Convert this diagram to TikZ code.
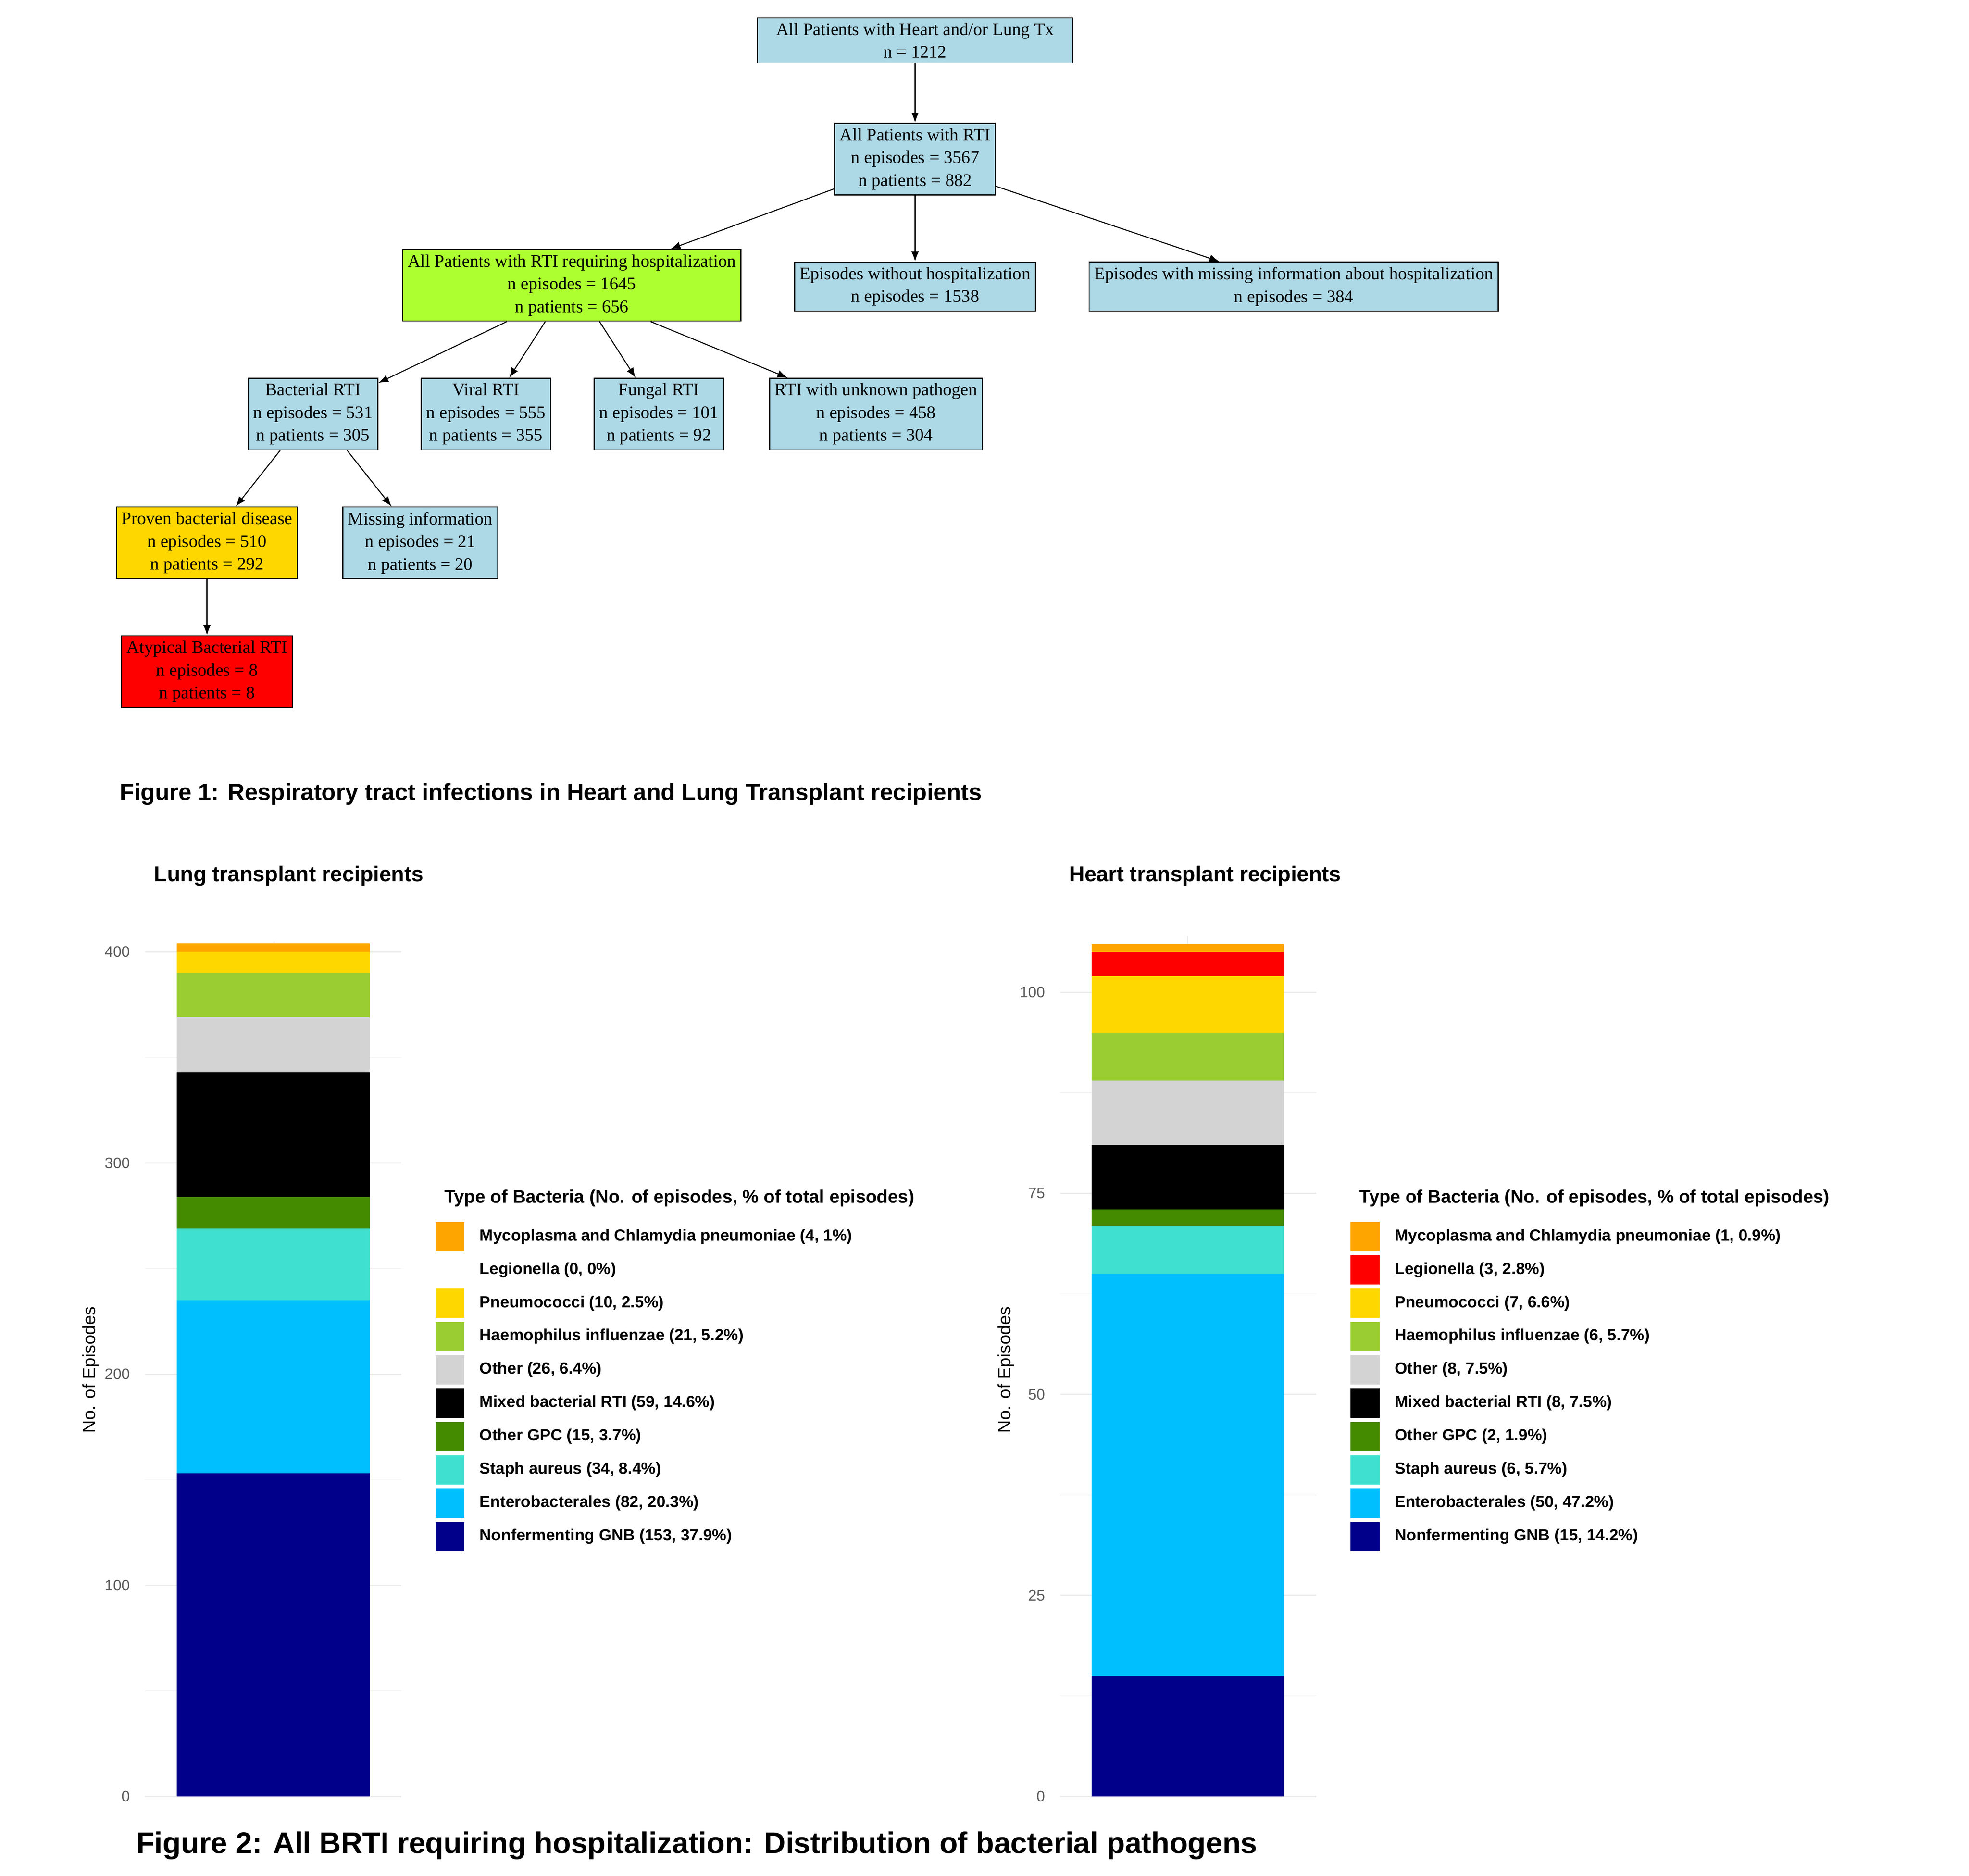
\documentclass[tikz,border=0pt]{standalone}
\usepackage{fontspec}
\setmainfont{Liberation Serif}
\newfontfamily\chartfont{Liberation Sans}
\usetikzlibrary{positioning}
\definecolor{boxblue}{RGB}{173,216,230}
\definecolor{hospgreen}{RGB}{173,255,47}
\definecolor{c1}{RGB}{0,0,139}
\definecolor{c2}{RGB}{0,191,255}
\definecolor{c3}{RGB}{64,224,208}
\definecolor{c4}{RGB}{69,139,0}
\definecolor{c5}{RGB}{0,0,0}
\definecolor{c6}{RGB}{211,211,211}
\definecolor{c7}{RGB}{154,205,50}
\definecolor{c8}{RGB}{255,215,0}
\definecolor{c9}{RGB}{255,0,0}
\definecolor{c10}{RGB}{255,165,0}
\definecolor{gridcol}{RGB}{235,235,235}
\tikzset{
  flow/.style={draw,fill=boxblue,align=center,inner sep=2pt,
    font=\fontsize{7}{9}\selectfont},
  tick/.style={font=\chartfont\fontsize{6}{7}\selectfont,text=black!65,anchor=east},
  legtext/.style={font=\chartfont\bfseries\fontsize{6.4}{7}\selectfont,anchor=west},
  heading/.style={font=\chartfont\bfseries,anchor=west},
}
\begin{document}
\begin{tikzpicture}[>=latex,x=0.5pt,y=-0.5pt]
\fill[white] (0,0) rectangle (1560,1486);
\useasboundingbox (0,0) rectangle (1560,1486);
%% flow chart
\node (all) at (725,32) [flow,minimum width=125pt] {All Patients with Heart and/or Lung Tx\\n = 1212};
\node (rti) at (725,126) [flow] {All Patients with RTI\\n episodes = 3567\\n patients = 882};
\node (hosp) at (453,226) [flow,fill=hospgreen] {All Patients with RTI requiring hospitalization\\n episodes = 1645\\n patients = 656};
\node (nohosp) at (725,227) [flow] {Episodes without hospitalization\\n episodes = 1538};
\node (mishosp) at (1025,227) [flow] {Episodes with missing information about hospitalization\\n episodes = 384};
\node (bact) at (248,328) [flow] {Bacterial RTI\\n episodes = 531\\n patients = 305};
\node (viral) at (385,328) [flow] {Viral RTI\\n episodes = 555\\n patients = 355};
\node (fungal) at (522,328) [flow] {Fungal RTI\\n episodes = 101\\n patients = 92};
\node (unknown) at (694,328) [flow] {RTI with unknown pathogen\\n episodes = 458\\n patients = 304};
\node (proven) at (164,430) [flow,fill=c8] {Proven bacterial disease\\n episodes = 510\\n patients = 292};
\node (misinfo) at (333,430) [flow] {Missing information\\n episodes = 21\\n patients = 20};
\node (atyp) at (164,532) [flow,fill=c9] {Atypical Bacterial RTI\\n episodes = 8\\n patients = 8};
\draw [->] (all) -- (rti);
\draw [->] (rti) -- (hosp);
\draw [->] (rti) -- (nohosp);
\draw [->] (rti) -- (mishosp);
\draw [->] (hosp.south west) ++(83,0) -- (bact);
\draw [->] (hosp.south) ++(-21,0) -- (viral);
\draw [->] (hosp.south) ++(22,0) -- (fungal);
\draw [->] (hosp.south east) ++(-72,0) -- (unknown);
\draw [->] (bact.south) ++(-26,0) -- (proven);
\draw [->] (bact.south) ++(27,0) -- (misinfo);
\draw [->] (proven) -- (atyp);
\node (cap1) at (88,629) [heading,font=\chartfont\bfseries\fontsize{9.3}{11}\selectfont] {Figure 1: Respiratory tract infections in Heart and Lung Transplant recipients};
%% lung chart
\node (lungtitle) at (115,694) [heading,font=\chartfont\bfseries\fontsize{8.5}{10}\selectfont] {Lung transplant recipients};
\begin{scope}[shift={(0,1423)},yscale=-1.6725]
  \foreach \g in {50,150,250,350} \draw[gridcol!60,line width=0.3pt] (115,\g) -- (318,\g);
  \foreach \g in {0,100,200,300,400} {
    \draw[gridcol,line width=0.5pt] (115,\g) -- (318,\g);
    \node[tick] at (110,\g) {\g};
  }
  \draw[gridcol,line width=0.5pt] (217,0) -- (217,405);
  \foreach \v/\c [evaluate=\v as \t using \s+\v, remember=\t as \s (initially 0)] in
    {153/c1,82/c2,34/c3,15/c4,59/c5,26/c6,21/c7,10/c8,0/c9,4/c10}
    \fill[\c] (140,\s) rectangle (293,\t);
\end{scope}
\node (lungylab) at (72,1085) [rotate=90,font=\chartfont\fontsize{7}{8}\selectfont] {No. of Episodes};
\node (lunglegend) at (345,949) [heading,font=\chartfont\bfseries\fontsize{7.2}{8}\selectfont] {Type of Bacteria (No. of episodes, \% of total episodes)};
\foreach \c/\txt [count=\i from 0] in {c10/{Mycoplasma and Chlamydia pneumoniae (4, 1\%)},white/{Legionella (0, 0\%)},c8/{Pneumococci (10, 2.5\%)},c7/{Haemophilus influenzae (21, 5.2\%)},c6/{Other (26, 6.4\%)},c5/{Mixed bacterial RTI (59, 14.6\%)},c4/{Other GPC (15, 3.7\%)},c3/{Staph aureus (34, 8.4\%)},c2/{Enterobacterales (82, 20.3\%)},c1/{Nonfermenting GNB (153, 37.9\%)}} {
  \fill[\c] (345,968+26.4*\i) rectangle ++(23,23);
  \node[legtext] at (373,979.5+26.4*\i) {\txt};
}
%% heart chart
\node (hearttitle) at (840,694) [heading,font=\chartfont\bfseries\fontsize{8.5}{10}\selectfont] {Heart transplant recipients};
\begin{scope}[shift={(0,1423)},yscale=-6.37]
  \foreach \g in {12.5,37.5,62.5,87.5} \draw[gridcol!60,line width=0.3pt] (840,\g) -- (1043,\g);
  \foreach \g in {0,25,50,75,100} {
    \draw[gridcol,line width=0.5pt] (840,\g) -- (1043,\g);
    \node[tick] at (835,\g) {\g};
  }
  \draw[gridcol,line width=0.5pt] (941,0) -- (941,107);
  \foreach \v/\c [evaluate=\v as \t using \s+\v, remember=\t as \s (initially 0)] in
    {15/c1,50/c2,6/c3,2/c4,8/c5,8/c6,6/c7,7/c8,3/c9,1/c10}
    \fill[\c] (865,\s) rectangle (1017,\t);
\end{scope}
\node (heartylab) at (797,1085) [rotate=90,font=\chartfont\fontsize{7}{8}\selectfont] {No. of Episodes};
\node (heartlegend) at (1070,949) [heading,font=\chartfont\bfseries\fontsize{7.2}{8}\selectfont] {Type of Bacteria (No. of episodes, \% of total episodes)};
\foreach \c/\txt [count=\i from 0] in {c10/{Mycoplasma and Chlamydia pneumoniae (1, 0.9\%)},c9/{Legionella (3, 2.8\%)},c8/{Pneumococci (7, 6.6\%)},c7/{Haemophilus influenzae (6, 5.7\%)},c6/{Other (8, 7.5\%)},c5/{Mixed bacterial RTI (8, 7.5\%)},c4/{Other GPC (2, 1.9\%)},c3/{Staph aureus (6, 5.7\%)},c2/{Enterobacterales (50, 47.2\%)},c1/{Nonfermenting GNB (15, 14.2\%)}} {
  \fill[\c] (1070,968+26.4*\i) rectangle ++(23,23);
  \node[legtext] at (1098,979.5+26.4*\i) {\txt};
}
\node (cap2) at (101,1462) [heading,font=\chartfont\bfseries\fontsize{11.8}{14}\selectfont] {Figure 2: All BRTI requiring hospitalization: Distribution of bacterial pathogens};
\end{tikzpicture}
\end{document}
